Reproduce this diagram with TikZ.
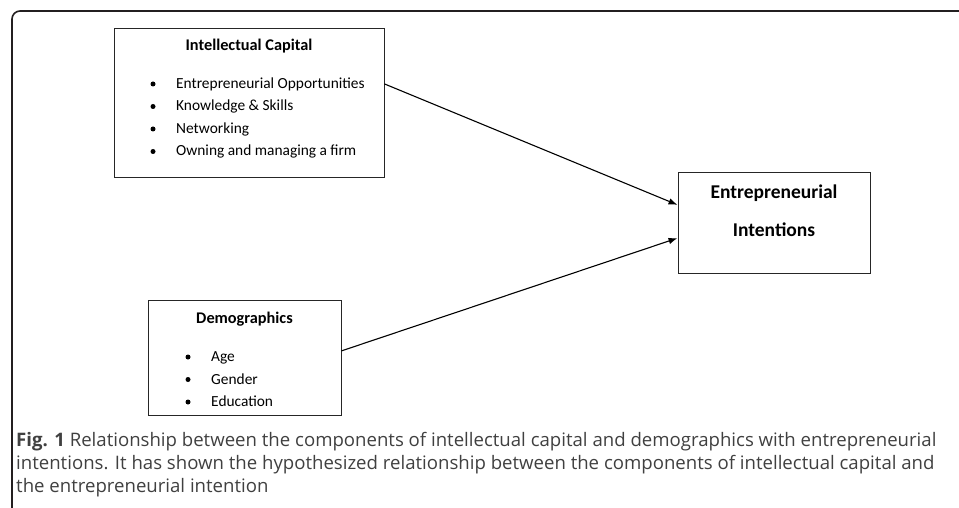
\documentclass[tikz,border=0pt]{standalone}
\usepackage{fontspec}
\setmainfont{Carlito}
\newfontfamily\capfont{Open Sans}
\usetikzlibrary{calc,arrows.meta}
\definecolor{framecol}{HTML}{231F20}
\definecolor{capcol}{HTML}{404040}
\begin{document}
\begin{tikzpicture}[x=1pt,y=-1pt,
  box/.style={draw=black!85, line width=0.9pt, inner sep=0pt, fill=none},
  boxtitle/.style={anchor=base, inner sep=0pt, font=\fontsize{16.3}{19}\selectfont\bfseries},
  bigtitle/.style={anchor=base, inner sep=0pt, font=\fontsize{19.5}{23}\selectfont\bfseries},
  itemtext/.style={anchor=base west, inner sep=0pt, font=\fontsize{15.4}{18}\selectfont},
  bul/.style={circle, fill=black, inner sep=0pt, minimum size=5pt},
  link/.style={-{Latex[length=9pt,width=6.5pt]}, line width=1.1pt, black},
  capline/.style={anchor=base west, inner sep=0pt, text=capcol, font=\capfont\fontsize{18.6}{22}\selectfont}]
\useasboundingbox (0,0) rectangle (959,508);
% frame
\draw[framecol, line width=1.6pt, rounded corners=8pt] (12,520) -- (12,11) -- (970,11);
% Intellectual Capital box
\node[box, minimum width=270pt, minimum height=149pt] (ic) at (249,102.5) {};
\node[boxtitle] (ict) at (249,51) {Intellectual Capital};
\node[bul] (icb1) at (153,84) {};
\node[itemtext] (ici1) at (176,88.5) {Entrepreneurial Opportunities};
\node[bul] (icb2) at (153,106.5) {};
\node[itemtext] (ici2) at (176,111) {Knowledge \& Skills};
\node[bul] (icb3) at (153,129) {};
\node[itemtext] (ici3) at (176,133.5) {Networking};
\node[bul] (icb4) at (153,151.5) {};
\node[itemtext] (ici4) at (176,156) {Owning and managing a firm};
% Demographics box
\node[box, minimum width=193pt, minimum height=115pt] (dm) at (244.5,357.5) {};
\node[boxtitle] (dmt) at (244.5,323.5) {Demographics};
\node[bul] (dmb1) at (188,357) {};
\node[itemtext] (dmi1) at (211,361.5) {Age};
\node[bul] (dmb2) at (188,379.5) {};
\node[itemtext] (dmi2) at (211,384) {Gender};
\node[bul] (dmb3) at (188,402) {};
\node[itemtext] (dmi3) at (211,406.5) {Education};
% Entrepreneurial Intentions box
\node[box, minimum width=192pt, minimum height=101pt] (ei) at (774,222.5) {};
\node[bigtitle] (eit1) at (774,198.5) {Entrepreneurial};
\node[bigtitle] (eit2) at (774,236) {Intentions};
% connectors
\draw[link] ($(ic.north east)!0.376!(ic.south east)$) -- ($(ei.north west)!0.327!(ei.south west)$);
\draw[link] ($(dm.north east)!0.443!(dm.south east)$) -- ($(ei.north west)!0.653!(ei.south west)$);
% caption
\node[capline] (cap1) at (16,446) {\textbf{Fig. 1} Relationship between the components of intellectual capital and demographics with entrepreneurial};
\node[capline] (cap2) at (16,469) {intentions. It has shown the hypothesized relationship between the components of intellectual capital and};
\node[capline] (cap3) at (16,492) {the entrepreneurial intention};
\end{tikzpicture}
\end{document}
